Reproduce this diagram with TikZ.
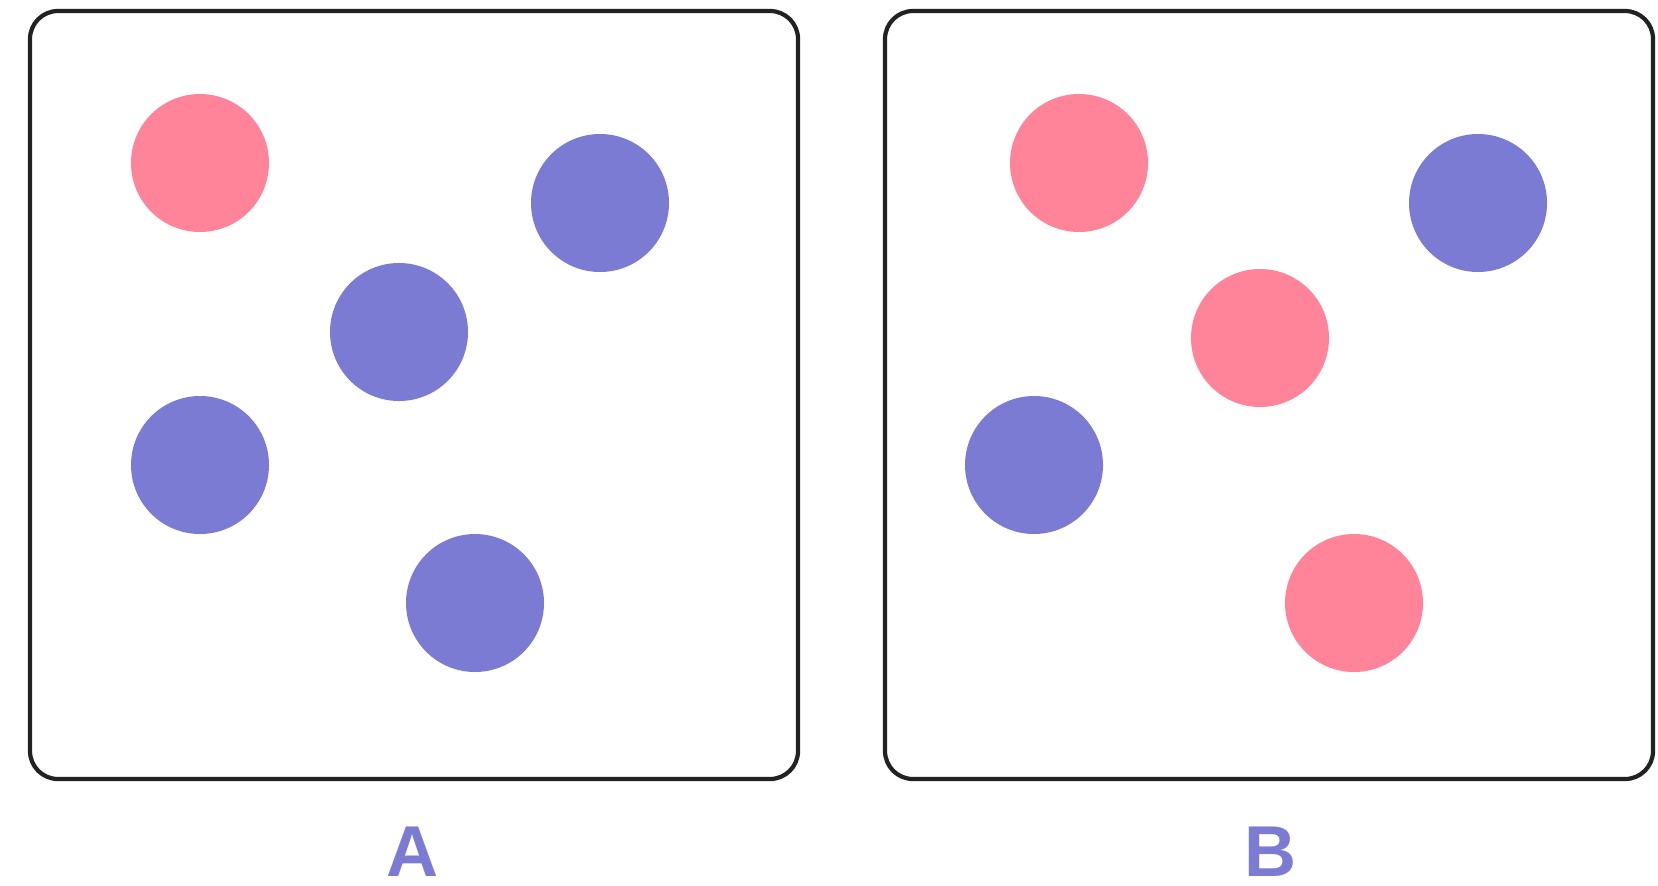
\documentclass[tikz,border=0pt]{standalone}
\usepackage{fontspec}
\setsansfont{Liberation Sans}
\usepackage{xcolor}
\usetikzlibrary{positioning}
\definecolor{dotred}{HTML}{FF8499}
\definecolor{dotblue}{HTML}{7B7BD4}
\definecolor{frame}{HTML}{222222}

\begin{document}
\begin{tikzpicture}[
  panel/.style={draw=frame, line width=1.2pt, rounded corners=0.28cm, minimum width=7.68cm, minimum height=7.68cm},
  reddot/.style={circle, fill=dotred, minimum size=1.38cm, inner sep=0pt},
  bluedot/.style={circle, fill=dotblue, minimum size=1.38cm, inner sep=0pt},
  tag/.style={anchor=base, inner sep=0pt, text=dotblue, font=\sffamily\bfseries\fontsize{20.5}{24}\selectfont}
]
\useasboundingbox (0,0) rectangle (16.58,8.85);
% left panel
\node[panel] (boxA) at (4.14,4.90) {};
\node[reddot]  (a1) at (2.00,7.22) {};
\node[bluedot] (a2) at (6.00,6.82) {};
\node[bluedot] (a3) at (3.99,5.53) {};
\node[bluedot] (a4) at (2.00,4.20) {};
\node[bluedot] (a5) at (4.75,2.82) {};
\node[tag] (labA) at (4.13,0.09) {A};
% right panel
\node[panel] (boxB) at (12.69,4.90) {};
\node[reddot]  (b1) at (10.79,7.22) {};
\node[bluedot] (b2) at (14.78,6.82) {};
\node[reddot]  (b3) at (12.60,5.47) {};
\node[bluedot] (b4) at (10.34,4.20) {};
\node[reddot]  (b5) at (13.54,2.82) {};
\node[tag] (labB) at (12.70,0.09) {B};
\end{tikzpicture}
\end{document}
